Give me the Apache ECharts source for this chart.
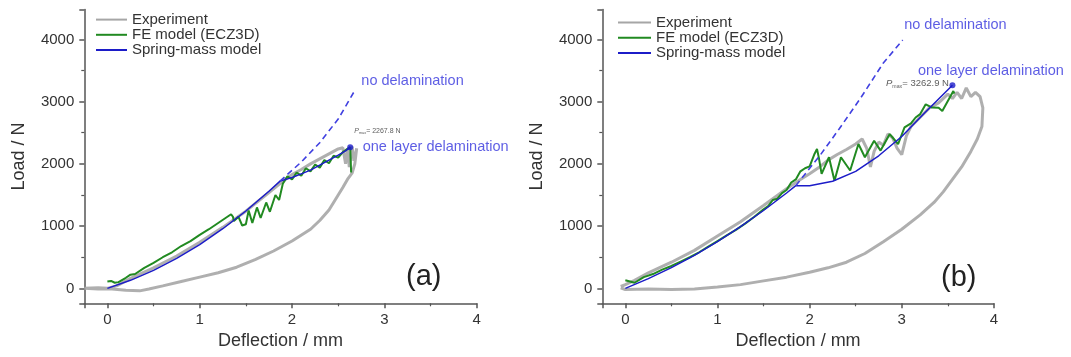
<!DOCTYPE html>
<html>
<head>
<meta charset="utf-8">
<script src="https://cdn.jsdelivr.net/npm/echarts@6/dist/echarts.min.js"></script>
<style>
  html, body { margin: 0; padding: 0; background: #fff; }
  #main { width: 1071px; height: 357px; }
</style>
</head>
<body>
<div id="main"></div>
<script>
// panel (a) - [deflection mm, load N]
const expA = [[-0.25,0],[-0.1,10],[0,0],[0.1,40],[0.25,160],[0.5,330],[0.75,520],[1.0,740],[1.25,980],[1.5,1240],[1.75,1540],[1.9,1720],[2.0,1830],[2.1,1910],[2.2,2000],[2.3,2080],[2.4,2160],[2.5,2240],[2.55,2260],[2.58,2000],[2.6,2250],[2.62,1950],[2.65,2280],[2.67,2050],[2.7,2250],[2.68,2000],[2.65,1850],[2.6,1750],[2.55,1620],[2.5,1500],[2.4,1260],[2.3,1090],[2.2,950],[2.0,760],[1.8,600],[1.6,460],[1.4,340],[1.2,250],[1.0,180],[0.8,110],[0.6,40],[0.45,-10],[0.35,-40],[0.2,-30],[0.05,-10],[-0.1,-10],[-0.25,0]];
const feA = [[0,110],[0.04,120],[0.08,90],[0.12,100],[0.2,170],[0.25,220],[0.3,230],[0.4,330],[0.5,410],[0.6,500],[0.7,580],[0.8,680],[0.9,760],[1.0,860],[1.1,950],[1.2,1050],[1.28,1130],[1.34,1190],[1.36,1150],[1.37,1080],[1.42,1150],[1.46,1010],[1.5,1030],[1.53,1250],[1.57,1050],[1.62,1300],[1.66,1130],[1.72,1380],[1.76,1230],[1.82,1500],[1.86,1420],[1.9,1680],[1.95,1800],[2.0,1750],[2.05,1860],[2.1,1810],[2.15,1930],[2.2,1880],[2.25,1990],[2.3,1940],[2.35,2060],[2.4,2010],[2.45,2130],[2.5,2100],[2.55,2190],[2.6,2240],[2.63,2268],[2.64,1860]];
const springA = [[0,0],[0.25,129],[0.5,289],[0.75,481],[1,704],[1.25,958],[1.5,1243],[1.75,1560],[1.87,1723],[2.0,1780],[2.1,1840],[2.2,1900],[2.3,1980],[2.4,2060],[2.5,2140],[2.58,2210],[2.63,2267.8]];
const noDelamA = [[1.87,1723],[2.1,2030],[2.3,2340],[2.5,2720],[2.68,3180]];

// panel (b)
const expB = [[-0.05,30],[0,60],[0.1,130],[0.25,250],[0.5,420],[0.75,610],[1.0,840],[1.25,1070],[1.5,1330],[1.75,1600],[1.9,1750],[2.0,1840],[2.1,1940],[2.2,2060],[2.3,2150],[2.4,2230],[2.5,2320],[2.57,2400],[2.62,2250],[2.66,1950],[2.7,2200],[2.75,2350],[2.8,2300],[2.85,2480],[2.9,2420],[2.95,2250],[3.0,2150],[3.05,2450],[3.1,2600],[3.2,2750],[3.3,2900],[3.4,2980],[3.5,3120],[3.55,3050],[3.6,3150],[3.65,3050],[3.7,3220],[3.75,3080],[3.8,3150],[3.85,3080],[3.88,2900],[3.87,2600],[3.82,2400],[3.75,2200],[3.65,1950],[3.55,1750],[3.45,1550],[3.35,1380],[3.2,1180],[3.0,950],[2.8,750],[2.6,560],[2.4,420],[2.2,330],[2.0,260],[1.75,180],[1.5,120],[1.25,60],[1.0,20],[0.75,-10],[0.5,-20],[0.25,-10],[0,-20],[-0.05,10]];
const feB = [[0,130],[0.05,110],[0.1,90],[0.2,180],[0.3,230],[0.4,300],[0.5,360],[0.6,430],[0.7,500],[0.8,580],[0.9,670],[1.0,760],[1.1,850],[1.2,940],[1.3,1040],[1.4,1150],[1.5,1270],[1.55,1320],[1.6,1420],[1.65,1440],[1.7,1530],[1.75,1580],[1.8,1700],[1.85,1750],[1.9,1880],[1.95,1930],[2.0,1960],[2.05,2150],[2.08,2239],[2.1,2100],[2.13,1840],[2.21,2106],[2.27,1730],[2.34,2106],[2.44,1894],[2.53,2319],[2.6,2106],[2.7,2372],[2.77,2213],[2.87,2479],[2.96,2319],[3.03,2585],[3.1,2650],[3.15,2745],[3.2,2800],[3.26,2957],[3.33,2904],[3.4,2900],[3.44,2851],[3.5,3010],[3.56,3170],[3.57,3130]];
const springB = [[0,0],[0.25,156],[0.5,333],[0.75,531],[1,750],[1.25,990],[1.5,1251],[1.75,1532],[1.85,1650],[2.0,1650],[2.25,1720],[2.5,1880],[2.75,2130],[3.0,2440],[3.25,2820],[3.55,3262.9]];
const noDelamB = [[1.85,1650],[2.12,2150],[2.32,2560],[2.55,3050],[2.8,3620],[3.01,3990]];

const legendNames = ["Experiment", "FE model (ECZ3D)", "Spring-mass model"];
const xRange = [-0.25, 4];
const yRange = [-240, 4480];

const font = '"Liberation Sans", Arial, sans-serif';
const axisColor = "#555";
const textColor = "#333";
const grayC = "#a6a6a6";
const greenC = "#218a21";
const blueC = "#1c1cc8";
const noteC = "#3535dd";

const chart = echarts.init(document.getElementById("main"));

function xAxisFor(gi) {
  return {
    type: "value", gridIndex: gi, min: xRange[0], max: xRange[1], splitNumber: 4,
    name: "Deflection / mm", nameLocation: "middle", nameGap: 29,
    nameTextStyle: { fontSize: 18, color: textColor, fontFamily: font },
    axisLine: { show: true, onZero: false, lineStyle: { color: axisColor, width: 1.5 } },
    axisTick: { show: true, length: 5, lineStyle: { color: axisColor, width: 1.5 } },
    minorTick: { show: true, splitNumber: 2, length: 3, lineStyle: { color: axisColor, width: 1.2 } },
    axisLabel: {
      fontSize: 15, color: textColor, fontFamily: font, margin: 9,
      showMinLabel: false,
      formatter: (v) => (Number.isInteger(v) ? String(v) : ""),
    },
    splitLine: { show: false },
  };
}

function yAxisFor(gi) {
  return {
    type: "value", gridIndex: gi, min: yRange[0], max: yRange[1], splitNumber: 5,
    name: "Load / N", nameLocation: "middle", nameGap: 56,
    nameTextStyle: { fontSize: 18, color: textColor, fontFamily: font },
    axisLine: { show: true, onZero: false, lineStyle: { color: axisColor, width: 1.5 } },
    axisTick: { show: true, length: 5, lineStyle: { color: axisColor, width: 1.5 } },
    minorTick: { show: true, splitNumber: 2, length: 3, lineStyle: { color: axisColor, width: 1.2 } },
    axisLabel: {
      fontSize: 15, color: textColor, fontFamily: font, margin: 10,
      showMinLabel: false, showMaxLabel: false,
      formatter: (v) => (v % 1000 === 0 ? String(v) : ""),
    },
    splitLine: { show: false },
  };
}

function panelSeries(gi, exp, fe, spring, dashed) {
  const ax = { xAxisIndex: gi, yAxisIndex: gi, symbol: "none", silent: true, animation: false };
  return [
    { ...ax, name: "Experiment", type: "line", data: exp, z: 1,
      lineStyle: { color: grayC, width: 3, opacity: 0.9 }, itemStyle: { color: "#b4b4b4" } },
    { ...ax, name: "FE model (ECZ3D)", type: "line", data: fe, z: 2,
      lineStyle: { color: greenC, width: 2 }, itemStyle: { color: greenC } },
    { ...ax, name: "Spring-mass model", type: "line", data: spring, z: 3,
      lineStyle: { color: blueC, width: 1.5 }, itemStyle: { color: blueC } },
    { ...ax, name: "no-delam-" + gi, type: "line", data: dashed, z: 3,
      lineStyle: { color: "#4040e0", width: 1.6, type: [6, 4] } },
    // Pmax point
    { xAxisIndex: gi, yAxisIndex: gi, type: "scatter", silent: true, animation: false, z: 4,
      name: "pmax-" + gi, data: [spring[spring.length - 1]], symbolSize: 6,
      itemStyle: { color: blueC } },
  ];
}

function note(gi, pt, text, pos, off, style) {
  return {
    type: "scatter", xAxisIndex: gi, yAxisIndex: gi, silent: true, animation: false, z: 5,
    name: "note", data: [pt], symbolSize: 1, itemStyle: { color: "rgba(0,0,0,0)" },
    label: { show: true, position: pos, distance: 0, offset: off, formatter: text,
      fontFamily: font, ...style },
  };
}

const blueText = { fontSize: 14.5, color: noteC };
function pmaxText(val, size) {
  return {
    formatter: "{p|P}{s|max}{t|= " + val + " N}",
    rich: {
      p: { fontSize: size, fontStyle: "italic", color: "#333", fontFamily: font },
      s: { fontSize: size * 0.55, color: "#333", fontFamily: font, padding: [size * 0.5, 0, 0, 0] },
      t: { fontSize: size, color: "#333", fontFamily: font },
    },
  };
}

const endA = springA[springA.length - 1];
const endB = springB[springB.length - 1];

const series = [
  ...panelSeries(0, expA, feA, springA, noDelamA),
  ...panelSeries(1, expB, feB, springB, noDelamB),
  note(0, noDelamA[noDelamA.length - 1], "no delamination", "right", [6, -9], blueText),
  note(0, endA, "one layer delamination", "right", [12, 0], blueText),
  (() => { const s = note(0, endA, "", "right", [3.5, -16], {}); Object.assign(s.label, pmaxText("2267.8", 7)); return s; })(),
  note(1, noDelamB[noDelamB.length - 1], "no delamination", "right", [1, -15], blueText),
  note(1, endB, "one layer delamination", "right", [-35, -14], blueText),
  (() => { const s = note(1, endB, "", "left", [-3, -1.5], {}); Object.assign(s.label, pmaxText("3262.9", 9.5)); return s; })(),
];

const legendBase = {
  data: legendNames, orient: "vertical", itemWidth: 31, itemHeight: 19, itemGap: 0,
  padding: 0, textStyle: { fontSize: 15, color: textColor, fontFamily: font },
  itemStyle: { opacity: 0 },
  lineStyle: { width: 2, opacity: 1 }, selectedMode: false,
};

const option = {
  animation: false,
  backgroundColor: "#fff",
  grid: [
    { left: 84.3, top: 9.5, width: 392.4, height: 293.8 },
    { left: 602.3, top: 9.5, width: 391.6, height: 293.8 },
  ],
  xAxis: [xAxisFor(0), xAxisFor(1)],
  yAxis: [yAxisFor(0), yAxisFor(1)],
  legend: [
    { ...legendBase, left: 95, top: 12 },
    { ...legendBase, itemWidth: 33, left: 617, top: 15 },
  ],
  graphic: [
    { type: "text", x: 406, y: 277, style: { text: "(a)", font: '29px "Liberation Sans", Arial', fill: "#222", verticalAlign: "middle" } },
    { type: "text", x: 941, y: 278, style: { text: "(b)", font: '29px "Liberation Sans", Arial', fill: "#222", verticalAlign: "middle" } },
  ],
  series: series,
};

chart.setOption(option);
</script>
</body>
</html>
